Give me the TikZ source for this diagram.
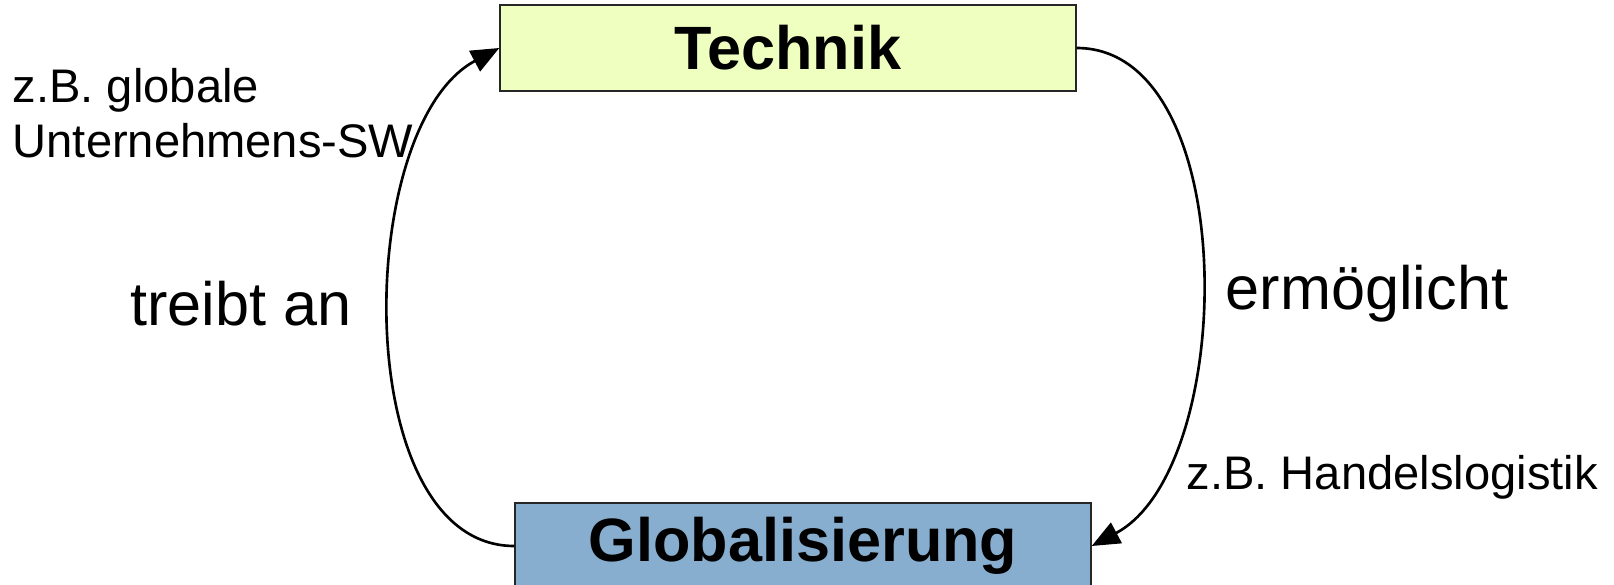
\documentclass[tikz,border=0pt]{standalone}
\usepackage{fontspec}
\setmainfont{Liberation Sans}
\usetikzlibrary{arrows.meta}

\definecolor{technikgruen}{RGB}{238,255,192}
\definecolor{globalblau}{RGB}{135,174,207}

\begin{document}
\begin{tikzpicture}[x=0.01cm,y=0.01cm,
    box/.style={draw=black!85,line width=.6pt,minimum width=5.75cm,minimum height=.86cm,
      inner sep=0pt,font=\fontsize{17.4}{20}\selectfont\bfseries},
    small/.style={inner sep=0pt,font=\fontsize{13.4}{15.4}\selectfont},
    big/.style={inner sep=0pt,font=\fontsize{17.4}{20}\selectfont},
    pfeil/.style={line width=.75pt,-{Triangle[length=.28cm,width=.23cm]}}]
  \useasboundingbox (0,0) rectangle (1614,584);
  \node[box,fill=technikgruen] (technik) at (788,536) {Technik};
  \node[box,fill=globalblau] (global) at (803,38) {Globalisierung};
  \draw[pfeil] (global.west) to[out=180,in=208,looseness=.85] (technik.west);
  \draw[pfeil] (technik.east) to[out=0,in=28,looseness=.85] (global.east);
  \node[small,align=left,anchor=north west] (bsp1) at (12,516) {z.B. globale\\Unternehmens-SW};
  \node[small,anchor=base west] (bsp2) at (1186,95) {z.B. Handelslogistik};
  \node[big,anchor=base] (treibt) at (241,259) {treibt an};
  \node[big,anchor=base] (ermoegl) at (1367,275) {ermöglicht};
\end{tikzpicture}
\end{document}
